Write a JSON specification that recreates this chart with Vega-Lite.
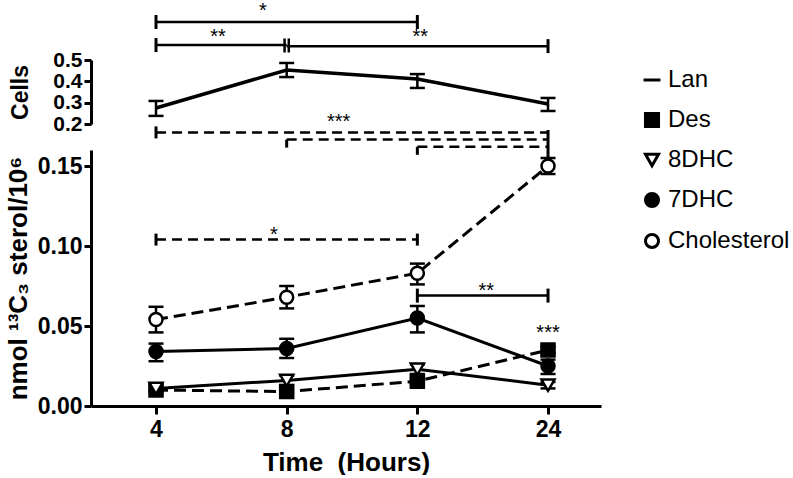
{
  "$schema": "https://vega.github.io/schema/vega-lite/v6.json",
  "background": "white",
  "padding": {"left": 5, "top": 0, "right": 2, "bottom": 0},
  "spacing": 26,
  "bounds": "flush",
  "config": {
    "view": {"stroke": null},
    "axis": {
      "domainColor": "black", "domainWidth": 3, "tickColor": "black", "tickWidth": 3, "tickSize": 7,
      "labelFont": "Liberation Sans", "labelFontWeight": "bold", "labelFontSize": 23, "labelColor": "black",
      "titleFont": "Liberation Sans", "titleFontWeight": "bold", "titleFontSize": 25, "titleColor": "black",
      "grid": false
    },
    "legend": {
      "labelFont": "Liberation Sans", "labelFontSize": 24, "labelFontWeight": "normal", "labelColor": "black",
      "symbolStrokeWidth": 3, "symbolSize": 170, "rowPadding": 15, "labelOffset": 4, "padding": 0
    }
  },
  "datasets": {
    "lan": [
      {"series": "Lan", "time": "4", "value": 0.275, "lo": 0.238, "hi": 0.308},
      {"series": "Lan", "time": "8", "value": 0.453, "lo": 0.420, "hi": 0.486},
      {"series": "Lan", "time": "12", "value": 0.411, "lo": 0.369, "hi": 0.434},
      {"series": "Lan", "time": "24", "value": 0.294, "lo": 0.261, "hi": 0.322}
    ],
    "main": [
      {"series": "Des", "time": "4", "value": 0.010, "lo": 0.009, "hi": 0.011},
      {"series": "Des", "time": "8", "value": 0.009, "lo": 0.008, "hi": 0.010},
      {"series": "Des", "time": "12", "value": 0.0155, "lo": 0.0135, "hi": 0.0175},
      {"series": "Des", "time": "24", "value": 0.035, "lo": 0.033, "hi": 0.037},
      {"series": "8DHC", "time": "4", "value": 0.011, "lo": 0.009, "hi": 0.013},
      {"series": "8DHC", "time": "8", "value": 0.016, "lo": 0.013, "hi": 0.019},
      {"series": "8DHC", "time": "12", "value": 0.023, "lo": 0.020, "hi": 0.026},
      {"series": "8DHC", "time": "24", "value": 0.013, "lo": 0.011, "hi": 0.015},
      {"series": "7DHC", "time": "4", "value": 0.034, "lo": 0.028, "hi": 0.039},
      {"series": "7DHC", "time": "8", "value": 0.036, "lo": 0.030, "hi": 0.042},
      {"series": "7DHC", "time": "12", "value": 0.055, "lo": 0.046, "hi": 0.0625},
      {"series": "7DHC", "time": "24", "value": 0.025, "lo": 0.020, "hi": 0.029},
      {"series": "Cholesterol", "time": "4", "value": 0.054, "lo": 0.046, "hi": 0.062},
      {"series": "Cholesterol", "time": "8", "value": 0.068, "lo": 0.061, "hi": 0.075},
      {"series": "Cholesterol", "time": "12", "value": 0.083, "lo": 0.076, "hi": 0.089},
      {"series": "Cholesterol", "time": "24", "value": 0.150, "lo": 0.145, "hi": 0.155}
    ]
  },
  "vconcat": [
    {
      "width": 510,
      "height": 64,
      "encoding": {
        "x": {"field": "time", "type": "ordinal", "scale": {"type": "point", "domain": ["4", "8", "12", "24"], "padding": 0.4515, "align": 0.551}, "axis": null},
        "y": {"field": "value", "type": "quantitative", "scale": {"domain": [0.2, 0.5], "nice": false, "zero": false}, "axis": {"values": [0.2, 0.3, 0.4, 0.5], "format": ".1f", "title": "Cells", "titleFontSize": 23, "labelFontSize": 21, "labelPadding": 2, "titlePadding": 20, "labelOverlap": false}}
      },
      "layer": [
        {
          "data": {"name": "lan"},
          "mark": {"type": "line", "color": "black", "strokeWidth": 3.5},
          "encoding": {}
        },
        {
          "data": {"name": "lan"},
          "mark": {"type": "rule", "color": "black", "strokeWidth": 2.5},
          "encoding": {"y": {"field": "lo", "type": "quantitative"}, "y2": {"field": "hi"}}
        },
        {
          "data": {"name": "lan"},
          "mark": {"type": "tick", "color": "black", "opacity": 1, "orient": "horizontal", "size": 15, "thickness": 2.5},
          "encoding": {"y": {"field": "lo", "type": "quantitative"}}
        },
        {
          "data": {"name": "lan"},
          "mark": {"type": "tick", "color": "black", "opacity": 1, "orient": "horizontal", "size": 15, "thickness": 2.5},
          "encoding": {"y": {"field": "hi", "type": "quantitative"}}
        },
        {
          "data": {"values": [
            {"time": "4", "to": "12", "value": 0.678},
            {"time": "4", "to": "8", "value": 0.57},
            {"time": "8", "to": "24", "value": 0.565}
          ]},
          "mark": {"type": "rule", "color": "black", "strokeWidth": 2.5},
          "encoding": {"x2": {"field": "to"}}
        },
        {
          "data": {"values": [
            {"time": "4", "value": 0.678},
            {"time": "12", "value": 0.678},
            {"time": "4", "value": 0.57},
            {"time": "24", "value": 0.565}
          ]},
          "mark": {"type": "point", "shape": "M0,-1V1", "size": 196, "stroke": "black", "strokeWidth": 3, "filled": false, "opacity": 1},
          "encoding": {}
        },
        {
          "data": {"values": [{"time": "8", "value": 0.568}]},
          "mark": {"type": "point", "shape": "M-0.3,-1V1M0.3,-1V1", "size": 196, "stroke": "black", "strokeWidth": 2.5, "filled": false, "opacity": 1},
          "encoding": {}
        },
        {
          "data": {"values": [{"time": "4", "value": 0.702, "label": "*"}]},
          "mark": {"type": "text", "dx": 107, "fontSize": 20, "fill": "black", "baseline": "alphabetic"},
          "encoding": {"text": {"field": "label"}}
        },
        {
          "data": {"values": [{"time": "4", "value": 0.58, "label": "**"}]},
          "mark": {"type": "text", "dx": 62, "fontSize": 20, "fill": "black", "baseline": "alphabetic"},
          "encoding": {"text": {"field": "label"}}
        },
        {
          "data": {"values": [{"time": "12", "value": 0.58, "label": "**"}]},
          "mark": {"type": "text", "dx": 3, "fontSize": 20, "fill": "black", "baseline": "alphabetic"},
          "encoding": {"text": {"field": "label"}}
        }
      ]
    },
    {
      "width": 510,
      "height": 256,
      "encoding": {
        "x": {"field": "time", "type": "ordinal", "scale": {"type": "point", "domain": ["4", "8", "12", "24"], "padding": 0.4515, "align": 0.551}, "axis": {"title": "Time\u00a0\u00a0(Hours)", "titleFontSize": 26, "labelAngle": 0, "tickSize": 8, "labelPadding": 4, "titlePadding": 8}},
        "y": {"field": "value", "type": "quantitative", "scale": {"domain": [0, 0.16], "nice": false, "zero": false}, "axis": {"values": [0, 0.05, 0.1, 0.15], "format": ".2f", "title": "nmol ¹³C₃ sterol/10⁶", "titleFontSize": 26, "labelPadding": 2, "titlePadding": 6, "labelOverlap": false}}
      },
      "layer": [
        {
          "data": {"name": "main"},
          "transform": [{"filter": {"field": "series", "oneOf": ["8DHC", "7DHC"]}}],
          "mark": {"type": "line", "color": "black", "strokeWidth": 3},
          "encoding": {"detail": {"field": "series"}}
        },
        {
          "data": {"name": "main"},
          "transform": [{"filter": {"field": "series", "oneOf": ["Des", "Cholesterol"]}}],
          "mark": {"type": "line", "color": "black", "strokeWidth": 3, "strokeDash": [12, 6]},
          "encoding": {"detail": {"field": "series"}}
        },
        {
          "data": {"name": "main"},
          "mark": {"type": "rule", "color": "black", "strokeWidth": 2.5},
          "encoding": {"y": {"field": "lo", "type": "quantitative"}, "y2": {"field": "hi"}}
        },
        {
          "data": {"name": "main"},
          "mark": {"type": "tick", "color": "black", "opacity": 1, "orient": "horizontal", "size": 15, "thickness": 2.5},
          "encoding": {"y": {"field": "lo", "type": "quantitative"}}
        },
        {
          "data": {"name": "main"},
          "mark": {"type": "tick", "color": "black", "opacity": 1, "orient": "horizontal", "size": 15, "thickness": 2.5},
          "encoding": {"y": {"field": "hi", "type": "quantitative"}}
        },
        {
          "data": {"name": "main"},
          "mark": {"type": "point", "filled": true, "stroke": "black", "strokeWidth": 2.5, "size": 170, "opacity": 1},
          "encoding": {
            "stroke": {"value": "black"},
            "shape": {"field": "series", "type": "nominal", "title": null, "scale": {"domain": ["Lan", "Des", "8DHC", "7DHC", "Cholesterol"], "range": ["M-1.3,0H1.3", "square", "triangle-down", "circle", "circle"]}, "legend": {"orient": "none", "legendX": 549, "legendY": 8, "title": null}},
            "fill": {"field": "series", "type": "nominal", "title": null, "scale": {"domain": ["Lan", "Des", "8DHC", "7DHC", "Cholesterol"], "range": ["black", "black", "white", "black", "white"]}, "legend": {"orient": "none", "legendX": 549, "legendY": 8, "title": null}}
          }
        },
        {
          "data": {"values": [
            {"time": "4", "to": "24", "value": 0.171},
            {"time": "8", "to": "24", "value": 0.1665},
            {"time": "12", "to": "24", "value": 0.162},
            {"time": "4", "to": "12", "value": 0.104}
          ]},
          "mark": {"type": "rule", "color": "black", "strokeWidth": 2.5, "strokeDash": [10, 6]},
          "encoding": {"x2": {"field": "to"}}
        },
        {
          "data": {"values": [
            {"time": "4", "value": 0.171},
            {"time": "4", "value": 0.104},
            {"time": "12", "value": 0.104}
          ]},
          "mark": {"type": "point", "shape": "M0,-1V1", "size": 144, "stroke": "black", "strokeWidth": 3, "filled": false, "opacity": 1},
          "encoding": {}
        },
        {
          "data": {"values": [
            {"time": "8", "value": 0.1665},
            {"time": "12", "value": 0.162}
          ]},
          "mark": {"type": "point", "shape": "M0,0V1", "size": 256, "stroke": "black", "strokeWidth": 3, "filled": false, "opacity": 1},
          "encoding": {}
        },
        {
          "data": {"values": [{"time": "24", "value": 0.1725, "end": 0.1555}]},
          "mark": {"type": "rule", "color": "black", "strokeWidth": 3},
          "encoding": {"y2": {"field": "end"}}
        },
        {
          "data": {"values": [{"time": "12", "to": "24", "value": 0.069}]},
          "mark": {"type": "rule", "color": "black", "strokeWidth": 2.5},
          "encoding": {"x2": {"field": "to"}}
        },
        {
          "data": {"values": [{"time": "12", "value": 0.069}, {"time": "24", "value": 0.069}]},
          "mark": {"type": "point", "shape": "M0,-1V1", "size": 196, "stroke": "black", "strokeWidth": 3, "filled": false, "opacity": 1},
          "encoding": {}
        },
        {
          "data": {"values": [{"time": "8", "value": 0.174, "label": "***"}]},
          "mark": {"type": "text", "dx": 52, "fontSize": 20, "fill": "black", "baseline": "alphabetic"},
          "encoding": {"text": {"field": "label"}}
        },
        {
          "data": {"values": [{"time": "4", "value": 0.103, "label": "*"}]},
          "mark": {"type": "text", "dx": 118, "fontSize": 20, "fill": "black", "baseline": "alphabetic"},
          "encoding": {"text": {"field": "label"}}
        },
        {
          "data": {"values": [{"time": "12", "value": 0.068, "label": "**"}]},
          "mark": {"type": "text", "dx": 69, "fontSize": 20, "fill": "black", "baseline": "alphabetic"},
          "encoding": {"text": {"field": "label"}}
        },
        {
          "data": {"values": [{"time": "24", "value": 0.042, "label": "***"}]},
          "mark": {"type": "text", "dx": 0, "fontSize": 20, "fill": "black", "baseline": "alphabetic"},
          "encoding": {"text": {"field": "label"}}
        }
      ]
    }
  ]
}
